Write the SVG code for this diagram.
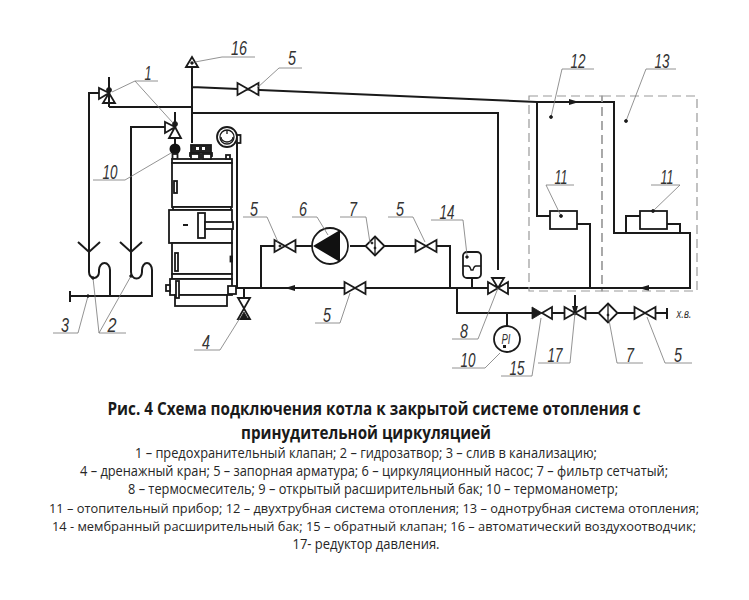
<svg xmlns="http://www.w3.org/2000/svg" width="749" height="600" viewBox="0 0 749 600">
<style>
.p{fill:none;stroke:#1a1a1a;stroke-width:2;stroke-linejoin:miter}
.s{fill:#fff;stroke:#1a1a1a;stroke-width:1.800}
.t{fill:none;stroke:#1a1a1a;stroke-width:1.300}
.k{fill:#1a1a1a;stroke:#1a1a1a;stroke-width:.8}
.l{fill:none;stroke:#777;stroke-width:.8}
.d{fill:none;stroke:#999;stroke-width:1.200;stroke-dasharray:9 5}
.n{font-family:"Liberation Sans",Arial,sans-serif;font-style:italic;font-size:20px;fill:#333;text-anchor:middle}
.h{font-family:"Open Sans","Noto Sans",sans-serif;font-weight:700;font-size:17px;fill:#1a1a1a;text-anchor:middle}
.b{font-family:"Open Sans","Noto Sans",sans-serif;font-size:14px;fill:#262626;text-anchor:middle}
.w{font-size:13px}
</style>
<defs>
<g id="v"><path class="s" d="M-10.500-6V6L0 0ZM10.500-6V6L0 0Z"/></g>
<g id="f"><path class="s" d="M0-9.500L9.500 0L0 9.500L-9.500 0Z"/><path class="t" d="M0-9.500V9.500"/><circle cx="0" cy="2" r="1" class="k"/></g>
<marker id="a" viewBox="0 0 10 6" refX="5" refY="3" markerWidth="10" markerHeight="6" orient="auto" markerUnits="userSpaceOnUse"><path d="M0 0L10 3L0 6Z" fill="#1a1a1a"/></marker>
</defs>
<rect width="749" height="600" fill="#fff"/>

<g id="connectors">
<path class="p" d="M192 67V143M192 87L537 102H614V233H690V288H509"/>
<path class="p" d="M192 113H498V270"/>
<path class="p" d="M192 107H109M99 93H89V252M165 127H131V252"/>
<path class="p" d="M237 143V288H244M244 288V298M244 288H488M261 288V246H274M295 246H313M350 246H365M385 246H415M437 246H450V288"/>
<path class="p" d="M537 102V216H550M577 224H590V288M626 233V216H640M667 224H680V233"/>
<path class="p" d="M457 288V313H532M507 313V326M472 278V288M552 313H565M586 313H598M618 313H634M656 313H667M667 308V319"/>
<path class="p" d="M575 295V311" marker-end="url(#a)"/>
<path class="p" d="M89 252V272A5 6 0 0 0 99 272V272V270A5.500 7 0 0 1 110 270V296M131 252V272A5 6 0 0 0 142 272V270A5 7 0 0 1 152 270V296H70M70 291V302"/>
<path d="M294 288H290" marker-end="url(#a)" class="p"/>
<path d="M570 102H574" marker-end="url(#a)" class="p"/>
<path d="M648 288H644" marker-end="url(#a)" class="p"/>
</g>

<g id="dashed-zones"><rect class="d" x="529" y="96" width="73" height="195"/><rect class="d" x="602" y="96" width="95" height="195"/></g>

<g id="funnel-left"><path class="p" d="M78 242L89 252L100 242"/></g>
<g id="funnel-right"><path class="p" d="M120 242L131 252L142 242"/></g>

<g id="air-vent"><path class="s" d="M186 67L192 57L198 67Z"/><circle cx="192" cy="63" r="1.300" class="k"/></g>
<g id="safety-valve-1"><path class="s" d="M99 88V99L109 93ZM109 93L103 103H115Z"/><path class="p" d="M109 77V107"/><circle cx="109" cy="90" r="2.500" class="k"/></g>
<g id="safety-valve-2"><path class="s" d="M165 122V133L175 127ZM175 127L169 138H181Z"/><path class="p" d="M175 112V127M175 138V144"/><circle cx="175" cy="124" r="2.500" class="k"/></g>
<g id="thermometer"><circle cx="175" cy="149" r="5.500" fill="#111"/><rect x="172.500" y="154" width="5" height="5" class="s"/></g>

<g id="boiler">
<rect class="s" x="172" y="159" width="60" height="4"/>
<rect class="s" x="172" y="163" width="60" height="44"/>
<rect class="s" x="173" y="207" width="58" height="3"/>
<rect class="s" x="169" y="210" width="63" height="33" stroke-width="2"/>
<rect class="s" x="172" y="243" width="60" height="31"/>
<rect class="s" x="172" y="274" width="60" height="5"/>
<rect class="s" x="170" y="279" width="62" height="16" stroke-width="2"/>
<rect class="s" x="175" y="295" width="52" height="11"/>
<path class="p" d="M183 225H188"/>
<rect class="s" x="198" y="213" width="7" height="25"/>
<rect class="s" x="205" y="222" width="28" height="7"/>
<rect class="s" x="174" y="181" width="3" height="12" stroke-width="1.200"/>
<rect class="s" x="175" y="253" width="3" height="18" stroke-width="1.200"/>
<rect class="s" x="176" y="281" width="3" height="17" stroke-width="1.200"/>
<rect class="s" x="166" y="285" width="4" height="6"/>
<rect class="k" x="230" y="256" width="2.500" height="6"/>
<rect class="s" x="228" y="286" width="8" height="8" stroke-width="1.200"/>
<rect class="s" x="191" y="145" width="20" height="8" style="fill:#222"/>
<rect x="196" y="147" width="3" height="3" fill="#fff"/><rect x="202" y="147" width="3" height="3" fill="#fff"/>
<rect class="s" x="190" y="153" width="22" height="3"/>
<rect class="s" x="191" y="154" width="8" height="5"/><rect class="s" x="203" y="154" width="8" height="5"/>
<rect x="199" y="154" width="4" height="5" fill="#222"/>
<rect class="s" x="226" y="155" width="4" height="4"/>
</g>

<g id="boiler-gauge"><circle class="s" cx="227" cy="137" r="10"/><circle class="t" cx="227" cy="137" r="7"/><path class="t" d="M221 137A6 5 0 0 0 233 137M227 130V134"/><rect class="s" x="237" y="135" width="3.500" height="8"/></g>

<g id="drain-valve-4"><use href="#v" transform="translate(244 308.500) rotate(90)"/><path class="k" d="M244 312L240 319H248Z"/></g>
<g id="valve-5a"><use href="#v" x="285" y="246"/><circle cx="280" cy="246" r="1.100" class="k"/></g>
<g id="pump-6"><circle class="s" cx="330" cy="246" r="18"/><path d="M313 246L340 230V262Z" fill="#111"/></g>
<g id="filter-7a"><use href="#f" x="375" y="246"/><circle cx="372" cy="243" r="1" class="k"/></g>
<g id="valve-5b"><use href="#v" x="426" y="246"/></g>
<g id="valve-5c"><use href="#v" x="355" y="288"/></g>
<g id="valve-5d"><use href="#v" x="248" y="89"/></g>
<g id="tank-14"><rect class="s" x="463" y="252" width="18" height="26" rx="4"/><path class="t" d="M463 266H468Q470 266 471 270H473Q474 266 476 266H481"/><circle cx="467" cy="257" r="1.300" class="k"/></g>
<g id="mixer-8"><path class="s" d="M488 282V294L498 288ZM508 282V294L498 288ZM492 278H504L498 288Z"/></g>
<g id="gauge-10"><circle class="s" cx="507" cy="339" r="13"/><text class="n" x="506" y="344" style="font-size:14px" textLength="9" lengthAdjust="spacingAndGlyphs">PI</text><rect x="503" y="345" width="3" height="3" fill="#1a1a1a"/></g>
<g id="check-valve-15"><path d="M532 307V319L542 313Z" class="k"/><path class="s" d="M552 307V319L542 313Z"/></g>
<g id="reducer-17"><use href="#v" x="575" y="313"/><circle cx="575" cy="313" r="1.500" class="k"/></g>
<g id="filter-7b"><use href="#f" x="608" y="313"/></g>
<g id="valve-5e"><use href="#v" x="645" y="313"/></g>
<g id="heater-11a"><rect class="s" x="550" y="211" width="27" height="18"/></g>
<g id="heater-11b"><rect class="s" x="640" y="211" width="27" height="18"/></g>

<g id="leaders">
<path class="l" d="M158 81H135L112 92M135 81L173 123"/>
<path class="l" d="M255 57H222L195 62"/>
<path class="l" d="M302 68H279L257 88"/>
<path class="l" d="M93 180H125L171 153"/>
<path class="l" d="M53 333H78L88 296"/>
<path class="l" d="M126 333H99L93 278M99 333L131 276"/>
<path class="l" d="M194 350H220L240 318"/>
<path class="l" d="M243 217H267L278 242"/>
<path class="l" d="M292 217H317L328 235"/>
<path class="l" d="M340 217H366L370 243"/>
<path class="l" d="M388 217H413L425 242"/>
<path class="l" d="M431 220H463L467 255"/>
<path class="l" d="M315 323H340L350 293"/>
<path class="l" d="M452 339H478L498 288"/>
<path class="l" d="M452 368H485L500 353"/>
<path class="l" d="M501 376H532L541 318"/>
<path class="l" d="M538 363H570L575 313"/>
<path class="l" d="M643 363H617L609 320"/>
<path class="l" d="M692 363H665L647 317"/>
<path class="l" d="M594 69H562L551 117"/>
<path class="l" d="M676 69H646L626 121"/>
<path class="l" d="M574 185H546L561 216"/>
<path class="l" d="M651 185H680L653 211"/>
<circle cx="551" cy="117" r="1.500" class="k"/><circle cx="626" cy="121" r="1.500" class="k"/><circle cx="561" cy="216" r="1.500" class="k"/><circle cx="653" cy="211" r="1.500" class="k"/><circle cx="88" cy="296" r="1.300" class="k"/><circle cx="93" cy="278" r="1.300" class="k"/><circle cx="131" cy="276" r="1.300" class="k"/>
</g>

<g id="labels">
<text class="n" x="148" y="80" textLength="7" lengthAdjust="spacingAndGlyphs">1</text><text class="n" x="239" y="55" textLength="16" lengthAdjust="spacingAndGlyphs">16</text><text class="n" x="292" y="65" textLength="8" lengthAdjust="spacingAndGlyphs">5</text>
<text class="n" x="110" y="179" textLength="15" lengthAdjust="spacingAndGlyphs">10</text><text class="n" x="65" y="332" textLength="8" lengthAdjust="spacingAndGlyphs">3</text><text class="n" x="112" y="332" textLength="9" lengthAdjust="spacingAndGlyphs">2</text><text class="n" x="206" y="349" textLength="8" lengthAdjust="spacingAndGlyphs">4</text>
<text class="n" x="254" y="216" textLength="8" lengthAdjust="spacingAndGlyphs">5</text><text class="n" x="303" y="216" textLength="8" lengthAdjust="spacingAndGlyphs">6</text><text class="n" x="353" y="216" textLength="8" lengthAdjust="spacingAndGlyphs">7</text><text class="n" x="400" y="216" textLength="8" lengthAdjust="spacingAndGlyphs">5</text><text class="n" x="447" y="219" textLength="15" lengthAdjust="spacingAndGlyphs">14</text>
<text class="n" x="327" y="322" textLength="8" lengthAdjust="spacingAndGlyphs">5</text><text class="n" x="464" y="338" textLength="8" lengthAdjust="spacingAndGlyphs">8</text><text class="n" x="468" y="367" textLength="15" lengthAdjust="spacingAndGlyphs">10</text><text class="n" x="517" y="375" textLength="15" lengthAdjust="spacingAndGlyphs">15</text>
<text class="n" x="555" y="362" textLength="15" lengthAdjust="spacingAndGlyphs">17</text><text class="n" x="630" y="362" textLength="8" lengthAdjust="spacingAndGlyphs">7</text><text class="n" x="678" y="362" textLength="8" lengthAdjust="spacingAndGlyphs">5</text>
<text class="n" x="578" y="68" textLength="15" lengthAdjust="spacingAndGlyphs">12</text><text class="n" x="662" y="68" textLength="15" lengthAdjust="spacingAndGlyphs">13</text><text class="n" x="561" y="184" textLength="13" lengthAdjust="spacingAndGlyphs">11</text><text class="n" x="667" y="184" textLength="13" lengthAdjust="spacingAndGlyphs">11</text>
<text class="n" x="684" y="318" style="font-size:13px" textLength="15" lengthAdjust="spacingAndGlyphs">х.в.</text>
</g>

<g id="caption">
<text class="h" x="374" y="415" textLength="533" lengthAdjust="spacingAndGlyphs">Рис. 4 Схема подключения котла к закрытой системе отопления с</text>
<text class="h" x="366" y="439" textLength="250" lengthAdjust="spacingAndGlyphs">принудительной циркуляцией</text>
<text class="b" x="366" y="458" textLength="462" lengthAdjust="spacingAndGlyphs">1 – предохранительный клапан; 2 – гидрозатвор; 3 – слив в канализацию;</text>
<text class="b" x="374" y="476" textLength="588" lengthAdjust="spacingAndGlyphs">4 – дренажный кран; 5 – запорная арматура; 6 – циркуляционный насос; 7 – фильтр сетчатый;</text>
<text class="b" x="373" y="494" textLength="490" lengthAdjust="spacingAndGlyphs">8 – термосмеситель; 9 – открытый расширительный бак; 10 – термоманометр;</text>
<text class="b w" x="374" y="513" textLength="650" lengthAdjust="spacingAndGlyphs">11 – отопительный прибор; 12 – двухтрубная система отопления; 13 – однотрубная система отопления;</text>
<text class="b w" x="374" y="531" textLength="644" lengthAdjust="spacingAndGlyphs">14 - мембранный расширительный бак; 15 – обратный клапан; 16 – автоматический воздухоотводчик;</text>
<text class="b" x="366" y="549" textLength="147" lengthAdjust="spacingAndGlyphs">17- редуктор давления.</text>
</g>
</svg>
